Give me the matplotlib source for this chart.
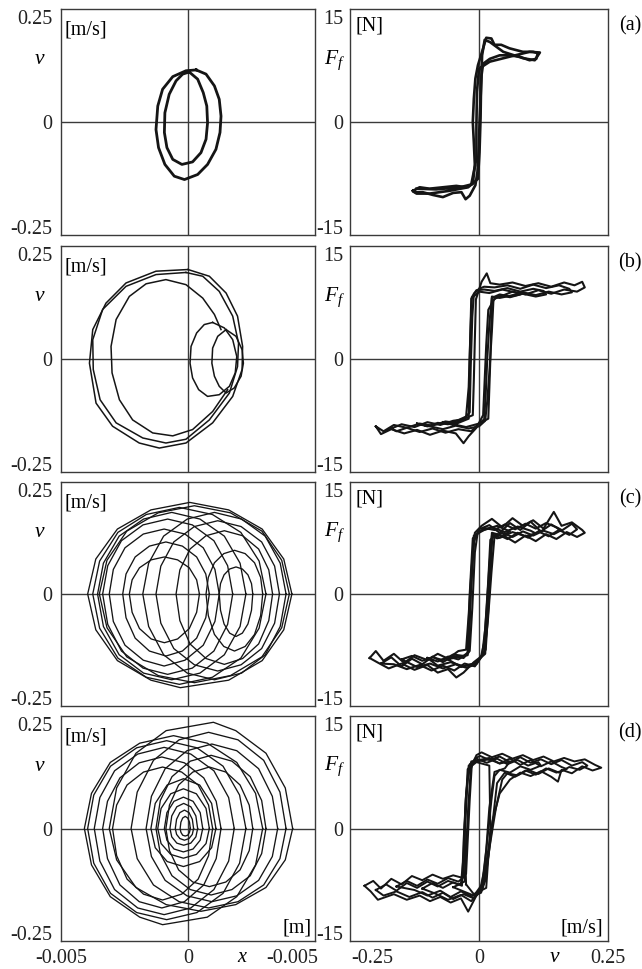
import matplotlib
matplotlib.use('Agg')
import matplotlib.pyplot as plt
import numpy as np

plt.rcParams['font.family'] = ['Liberation Serif', 'DejaVu Serif']
plt.rcParams['mathtext.fontset'] = 'custom'
plt.rcParams['mathtext.rm'] = 'Liberation Serif'
plt.rcParams['mathtext.it'] = 'Liberation Serif:italic'
plt.rcParams['axes.unicode_minus'] = False

MM = 1e-3  # x values below are stored in millimetres

# ---------------- panel (a) ----------------
a_phase_x_mm = [
    [0.32, 0.71, 1.04, 1.23, 1.30, 1.26, 1.10, 0.77, 0.38, -0.14, -0.54, -0.91, -1.16, -1.26, -1.19, -1.00, -0.60, -0.08, 0.32],
    [0.05, 0.38, 0.60, 0.74, 0.77, 0.71, 0.51, 0.18, -0.24, -0.60, -0.83, -0.93, -0.91, -0.74, -0.47, -0.21, 0.05],
]
a_phase_v = [
    [0.124, 0.114, 0.086, 0.054, 0.014, -0.025, -0.065, -0.101, -0.125, -0.137, -0.129, -0.101, -0.061, -0.018, 0.038, 0.078, 0.108, 0.122, 0.124],
    [0.119, 0.102, 0.070, 0.038, -0.002, -0.041, -0.073, -0.095, -0.101, -0.089, -0.061, -0.025, 0.022, 0.066, 0.098, 0.114, 0.119],
]
a_fric_v = [
    [-0.128, -0.115, -0.096, -0.070, -0.044, -0.025, -0.012, -0.008, -0.010, -0.012, -0.010, -0.007, -0.002, 0.008, 0.014, 0.024, 0.030, 0.043, 0.059, 0.085, 0.105, 0.114, 0.111, 0.098, 0.079, 0.059, 0.040, 0.021, 0.008, 0.005, 0.003, 0.001, 0.000, -0.003, -0.007, -0.018, -0.026, -0.034, -0.050, -0.070, -0.089, -0.109, -0.125, -0.128],
    [-0.121, -0.083, -0.037, -0.015, -0.005, -0.005, -0.004, 0.000, 0.021, 0.059, 0.098, 0.118, 0.108, 0.085, 0.047, 0.021, 0.011, 0.006, 0.004, 0.003, 0.001, -0.002, -0.021, -0.057, -0.096, -0.121, -0.127],
]
a_fric_F = [
    [-9.8, -9.3, -9.5, -9.3, -9.1, -9.3, -8.8, -6.2, -2.9, 0.0, 3.3, 6.2, 8.1, 10.5, 12.0, 11.9, 11.0, 11.0, 10.5, 10.0, 10.0, 9.8, 9.0, 8.8, 9.3, 9.5, 9.5, 9.0, 8.3, 6.7, 3.3, 0.0, -3.3, -7.1, -9.0, -10.5, -11.0, -10.0, -10.1, -10.7, -10.4, -10.0, -10.0, -9.8],
    [-9.5, -9.6, -9.3, -8.9, -5.2, -0.5, 4.3, 7.6, 8.6, 9.3, 10.0, 9.9, 8.8, 9.1, 10.0, 11.4, 11.7, 9.5, 5.2, 0.5, -4.3, -8.1, -9.3, -9.8, -10.2, -10.2, -9.9],
]

# ---------------- panel (b) ----------------
b_phase_x_mm = [
    [0, -1.26, -2.44, -3.23, -3.75, -3.88, -3.62, -2.97, -1.92, -1.13, -0.08, 0.97, 1.76, 2.13, 2.15, 1.95, 1.50, 0.84, 0],
    [-0.08, -1.26, -2.44, -3.36, -3.75, -3.73, -3.46, -2.83, -1.78, -0.87, -0.08, 0.84, 1.63, 1.95, 1.99, 1.76, 1.23, 0.58, -0.08],
    [1.56, 0.97, 0.18, -0.60, -1.39, -2.18, -2.70, -2.99, -3.03, -2.83, -2.31, -1.65, -0.87, -0.08, 0.58, 1.04, 1.30],
    [0.97, 1.43, 1.76, 1.92, 1.86, 1.63, 1.23, 0.77, 0.42, 0.18, 0.08, 0.12, 0.34, 0.64, 0.97],
    [1.50, 1.89, 2.13, 2.18, 2.09, 1.82, 1.50, 1.23, 1.04, 0.94, 0.97, 1.17, 1.50],
]
b_phase_v = [
    [0.213, 0.209, 0.181, 0.133, 0.070, -0.010, -0.105, -0.160, -0.200, -0.212, -0.200, -0.152, -0.089, -0.025, 0.030, 0.102, 0.157, 0.197, 0.213],
    [0.206, 0.201, 0.173, 0.118, 0.046, -0.025, -0.097, -0.152, -0.188, -0.200, -0.191, -0.145, -0.081, -0.018, 0.038, 0.102, 0.161, 0.197, 0.206],
    [-0.073, -0.125, -0.168, -0.183, -0.176, -0.145, -0.097, -0.033, 0.030, 0.094, 0.149, 0.179, 0.189, 0.177, 0.145, 0.106, 0.070],
    [0.087, 0.074, 0.046, 0.006, -0.033, -0.065, -0.085, -0.089, -0.073, -0.045, -0.010, 0.030, 0.062, 0.082, 0.087],
    [0.070, 0.054, 0.022, -0.010, -0.041, -0.069, -0.081, -0.065, -0.041, -0.010, 0.026, 0.054, 0.070],
]
b_fric_v = [
    [-0.200, -0.185, -0.165, -0.140, -0.115, -0.090, -0.065, -0.045, -0.025, -0.012, -0.010, -0.008, -0.006, 0.005, 0.015, 0.022, 0.040, 0.065, 0.090, 0.115, 0.140, 0.165, 0.185, 0.200, 0.205, 0.190, 0.165, 0.140, 0.115, 0.090, 0.065, 0.045, 0.030, 0.018, 0.014, 0.011, 0.008, -0.005, -0.020, -0.030, -0.045, -0.070, -0.095, -0.120, -0.145, -0.170, -0.190, -0.200],
    [-0.170, -0.150, -0.125, -0.100, -0.075, -0.050, -0.030, -0.018, -0.016, -0.013, -0.010, 0.000, 0.010, 0.030, 0.055, 0.080, 0.105, 0.130, 0.155, 0.175, 0.180, 0.160, 0.135, 0.110, 0.085, 0.060, 0.040, 0.025, 0.020, 0.016, 0.013, 0.010, -0.002, -0.015, -0.040, -0.065, -0.090, -0.115, -0.140, -0.160, -0.170],
    [-0.120, -0.100, -0.080, -0.060, -0.040, -0.025, -0.020, -0.017, -0.014, -0.005, 0.010, 0.030, 0.055, 0.080, 0.105, 0.125, 0.130, 0.110, 0.085, 0.060, 0.040, 0.028, 0.025, 0.020, 0.016, 0.012, 0.000, -0.020, -0.045, -0.070, -0.095, -0.120],
    [-0.070, -0.050, -0.030, -0.020, -0.018, -0.015, 0.000, 0.020, 0.045, 0.070, 0.080, 0.060, 0.040, 0.025, 0.022, 0.018, 0.000, -0.025, -0.050, -0.070],
]
b_fric_F = [
    [-9.6, -10.3, -9.4, -9.8, -9.2, -9.5, -8.9, -9.1, -8.4, -8.0, -3.0, 3.0, 8.5, 11.0, 12.2, 10.8, 10.6, 10.9, 10.4, 10.8, 10.3, 10.9, 10.5, 11.0, 10.2, 9.6, 9.9, 9.3, 9.8, 9.2, 9.6, 9.0, 8.6, 7.0, 2.0, -3.0, -8.0, -9.8, -11.0, -12.0, -10.6, -10.2, -10.8, -10.1, -10.6, -10.0, -10.7, -9.6],
    [-9.9, -9.3, -9.7, -9.0, -9.4, -8.8, -8.6, -7.6, -1.0, 6.0, 9.3, 10.0, 10.3, 10.2, 10.5, 10.0, 10.6, 10.1, 10.5, 10.0, 9.5, 9.2, 9.6, 9.1, 9.5, 9.0, 8.7, 8.9, 5.0, 0.0, -5.0, -8.6, -9.3, -10.3, -10.0, -10.5, -9.9, -10.4, -9.8, -10.3, -9.9],
    [-9.2, -9.6, -9.1, -9.3, -8.7, -8.2, -4.0, 3.0, 8.8, 9.8, 9.9, 9.7, 10.1, 9.6, 10.0, 9.7, 9.2, 8.9, 9.3, 8.8, 9.1, 8.4, 4.0, -2.0, -6.0, -8.8, -9.6, -9.9, -9.5, -10.0, -9.6, -9.2],
    [-9.0, -9.4, -8.8, -8.5, 0.0, 8.6, 9.6, 9.4, 9.9, 9.5, 9.2, 8.9, 9.2, 8.7, 0.0, -8.5, -9.2, -9.7, -9.3, -9.0],
]

# ---------------- panel (c) ----------------
c_phase_x_mm = [
    [4.09, 3.77, 2.92, 1.60, 0.07, -1.46, -2.78, -3.63, -3.95, -3.63, -2.78, -1.46, -0.30, 1.60, 2.92, 3.77, 4.09],
    [3.07, 2.80, 2.08, 0.96, -0.34, -1.64, -2.76, -3.48, -3.75, -3.48, -2.76, -1.64, -0.34, 0.96, 2.08, 2.80, 3.07],
    [2.28, 2.05, 1.43, 0.47, -0.64, -1.75, -2.71, -3.33, -3.56, -3.33, -2.71, -1.75, -0.64, 0.47, 1.43, 2.05, 2.28],
    [1.76, 1.56, 1.02, 0.17, -0.80, -1.77, -2.62, -3.16, -3.36, -3.16, -2.62, -1.77, -0.80, 0.17, 1.02, 1.56, 1.76],
    [1.23, 1.06, 0.60, -0.12, -0.94, -1.76, -2.48, -2.94, -3.10, -2.94, -2.48, -1.76, -0.94, -0.12, 0.60, 1.06, 1.23],
    [0.84, 0.70, 0.34, -0.22, -0.87, -1.52, -2.08, -2.44, -2.57, -2.44, -2.08, -1.52, -0.87, -0.22, 0.34, 0.70, 0.84],
    [0.45, 0.34, 0.05, -0.41, -0.93, -1.45, -1.91, -2.20, -2.31, -2.20, -1.91, -1.45, -0.93, -0.41, 0.05, 0.34, 0.45],
    [3.99, 3.69, 2.91, 1.67, 0.25, -1.17, -2.41, -3.19, -3.49, -3.19, -2.41, -1.17, 0.25, 1.67, 2.91, 3.69, 3.99],
    [3.86, 3.63, 3.04, 2.11, 1.04, -0.03, -0.96, -1.55, -1.78, -1.55, -0.96, -0.03, 1.04, 2.11, 3.04, 3.63, 3.86],
    [3.60, 3.41, 2.90, 2.09, 1.17, 0.25, -0.56, -1.07, -1.26, -1.07, -0.56, 0.25, 1.17, 2.09, 2.90, 3.41, 3.60],
    [3.33, 3.18, 2.78, 2.15, 1.43, 0.71, 0.08, -0.32, -0.47, -0.32, 0.08, 0.71, 1.43, 2.15, 2.78, 3.18, 3.33],
    [2.94, 2.86, 2.62, 2.25, 1.83, 1.41, 1.04, 0.80, 0.71, 0.80, 1.04, 1.41, 1.83, 2.25, 2.62, 2.86, 2.94],
    [2.55, 2.50, 2.36, 2.14, 1.89, 1.64, 1.42, 1.28, 1.23, 1.28, 1.42, 1.64, 1.89, 2.14, 2.36, 2.50, 2.55],
]
c_phase_v = [
    [0, 0.084, 0.156, 0.202, 0.220, 0.202, 0.156, 0.084, 0, -0.086, -0.160, -0.207, -0.225, -0.207, -0.160, -0.086, 0],
    [0, 0.079, 0.148, 0.191, 0.208, 0.191, 0.148, 0.079, 0, -0.082, -0.154, -0.200, -0.217, -0.200, -0.154, -0.082, 0],
    [0, 0.074, 0.139, 0.180, 0.196, 0.180, 0.139, 0.074, 0, -0.078, -0.146, -0.190, -0.206, -0.190, -0.146, -0.078, 0],
    [0, 0.068, 0.128, 0.166, 0.180, 0.166, 0.128, 0.068, 0, -0.073, -0.137, -0.178, -0.193, -0.178, -0.137, -0.073, 0],
    [0, 0.059, 0.111, 0.144, 0.156, 0.144, 0.111, 0.059, 0, -0.066, -0.123, -0.159, -0.173, -0.159, -0.123, -0.066, 0],
    [0, 0.048, 0.089, 0.115, 0.125, 0.115, 0.089, 0.048, 0, -0.057, -0.106, -0.137, -0.149, -0.137, -0.106, -0.057, 0],
    [0, 0.034, 0.063, 0.082, 0.089, 0.082, 0.063, 0.034, 0, -0.044, -0.083, -0.108, -0.117, -0.108, -0.083, -0.044, 0],
    [0, 0.081, 0.151, 0.195, 0.212, 0.195, 0.151, 0.081, 0, -0.081, -0.151, -0.196, -0.213, -0.196, -0.151, -0.081, 0],
    [0, 0.074, 0.139, 0.180, 0.196, 0.180, 0.139, 0.074, 0, -0.078, -0.146, -0.190, -0.206, -0.190, -0.146, -0.078, 0],
    [0, 0.067, 0.125, 0.162, 0.176, 0.162, 0.125, 0.067, 0, -0.070, -0.131, -0.170, -0.185, -0.170, -0.131, -0.070, 0],
    [0, 0.058, 0.108, 0.140, 0.152, 0.140, 0.108, 0.058, 0, -0.064, -0.120, -0.155, -0.169, -0.155, -0.120, -0.064, 0],
    [0, 0.040, 0.075, 0.097, 0.105, 0.097, 0.075, 0.040, 0, -0.052, -0.097, -0.126, -0.137, -0.126, -0.097, -0.052, 0],
    [0, 0.025, 0.046, 0.060, 0.065, 0.060, 0.046, 0.025, 0, -0.039, -0.072, -0.094, -0.102, -0.094, -0.072, -0.039, 0],
]
c_fric_v = [
    [-0.212, -0.200, -0.185, -0.165, -0.145, -0.125, -0.100, -0.080, -0.060, -0.040, -0.025, -0.020, -0.014, -0.008, 0.005, 0.025, 0.045, 0.065, 0.085, 0.105, 0.125, 0.145, 0.160, 0.180, 0.200, 0.205, 0.190, 0.170, 0.150, 0.130, 0.110, 0.090, 0.070, 0.050, 0.035, 0.025, 0.020, 0.015, 0.010, 0.004, -0.010, -0.030, -0.044, -0.060, -0.080, -0.100, -0.125, -0.150, -0.175, -0.195, -0.212],
    [-0.190, -0.170, -0.150, -0.130, -0.110, -0.090, -0.070, -0.050, -0.030, -0.020, -0.016, -0.010, 0.000, 0.020, 0.040, 0.060, 0.080, 0.100, 0.120, 0.140, 0.160, 0.180, 0.190, 0.175, 0.155, 0.135, 0.115, 0.095, 0.075, 0.055, 0.035, 0.022, 0.018, 0.012, 0.006, -0.008, -0.028, -0.048, -0.070, -0.092, -0.115, -0.140, -0.165, -0.190],
    [-0.150, -0.130, -0.110, -0.090, -0.070, -0.050, -0.030, -0.018, -0.013, -0.008, -0.003, 0.010, 0.030, 0.050, 0.070, 0.090, 0.110, 0.130, 0.150, 0.160, 0.145, 0.125, 0.105, 0.085, 0.065, 0.045, 0.030, 0.024, 0.017, 0.010, -0.005, -0.025, -0.045, -0.070, -0.095, -0.120, -0.150],
    [-0.100, -0.080, -0.060, -0.040, -0.022, -0.018, -0.012, 0.000, 0.025, 0.050, 0.075, 0.100, 0.110, 0.090, 0.065, 0.040, 0.026, 0.020, 0.013, -0.005, -0.030, -0.055, -0.080, -0.100],
    [-0.060, -0.040, -0.022, -0.016, -0.010, 0.010, 0.035, 0.060, 0.045, 0.025, 0.018, 0.012, -0.010, -0.035, -0.060],
]
c_fric_F = [
    [-9.2, -8.2, -9.6, -8.6, -9.9, -8.8, -9.5, -8.6, -9.3, -8.2, -8.0, -3.0, 4.0, 8.8, 9.8, 10.8, 9.6, 10.9, 9.8, 10.6, 9.4, 11.8, 9.8, 10.3, 9.2, 8.8, 8.2, 8.9, 7.9, 8.6, 7.6, 8.4, 7.4, 8.3, 8.0, 8.4, 4.0, -2.0, -7.0, -9.0, -9.8, -11.3, -12.0, -10.8, -11.3, -10.2, -10.9, -10.0, -10.7, -9.9, -9.2],
    [-10.0, -9.1, -10.4, -9.3, -10.1, -9.0, -9.8, -8.9, -9.2, -8.4, 0.0, 7.5, 9.3, 9.9, 8.8, 10.2, 9.2, 10.4, 9.0, 10.0, 9.1, 10.1, 9.3, 8.5, 9.2, 8.3, 9.0, 8.1, 8.8, 7.9, 8.6, 7.8, 2.0, -5.0, -8.8, -10.4, -10.0, -11.0, -10.3, -11.0, -10.2, -10.8, -10.1, -10.0],
    [-9.4, -8.9, -9.6, -9.1, -9.5, -8.7, -8.9, -8.2, -2.0, 6.0, 8.6, 9.5, 9.2, 10.0, 9.3, 10.1, 9.4, 10.2, 9.6, 9.2, 8.6, 9.1, 8.4, 9.0, 8.2, 8.8, 8.3, 3.0, -4.0, -8.5, -10.1, -10.6, -10.1, -10.7, -10.0, -10.5, -9.4],
    [-9.2, -9.7, -9.0, -9.4, -8.6, 0.0, 8.0, 9.0, 9.6, 8.9, 9.7, 9.1, 8.7, 8.3, 8.9, 8.1, 8.6, 0.0, -8.0, -9.9, -10.4, -9.8, -10.3, -9.2],
    [-9.4, -9.0, -8.8, 0.0, 8.4, 9.2, 9.8, 9.0, 8.4, 8.8, 0.0, -8.6, -10.0, -10.5, -9.4],
]

# ---------------- panel (d) ----------------
d_phase_x_mm = [
    [2.94, 2.66, 1.92, 0.76, -0.57, -1.90, -3.06, -3.80, -4.08, -3.80, -3.06, -1.90, -1.00, 0.76, 1.92, 2.66, 2.94],
    [2.28, 2.03, 1.38, 0.35, -0.84, -2.02, -3.05, -3.71, -3.95, -3.71, -3.05, -2.02, -0.84, 0.35, 1.38, 2.03, 2.28],
    [1.82, 1.60, 1.02, 0.11, -0.94, -1.98, -2.89, -3.47, -3.69, -3.47, -2.89, -1.98, -0.94, 0.11, 1.02, 1.60, 1.82],
    [1.30, 1.11, 0.62, -0.14, -1.03, -1.92, -2.68, -3.17, -3.36, -3.17, -2.68, -1.92, -1.03, -0.14, 0.62, 1.11, 1.30],
    [0.97, 0.81, 0.40, -0.25, -1.00, -1.75, -2.40, -2.81, -2.97, -2.81, -2.40, -1.75, -1.00, -0.25, 0.40, 0.81, 0.97],
    [4.12, 3.83, 3.07, 1.88, 1.00, -0.86, -2.05, -2.81, -3.10, -2.81, -2.05, -0.86, 0.51, 1.88, 3.07, 3.83, 4.12],
    [3.86, 3.62, 2.98, 1.97, 0.81, -0.35, -1.36, -2.00, -2.24, -2.00, -1.36, -0.35, 0.81, 1.97, 2.98, 3.62, 3.86],
    [3.53, 3.32, 2.78, 1.92, 0.94, -0.04, -0.90, -1.44, -1.65, -1.44, -0.90, -0.04, 0.94, 1.92, 2.78, 3.32, 3.53],
    [3.07, 2.90, 2.45, 1.73, 0.91, 0.09, -0.63, -1.09, -1.26, -1.09, -0.63, 0.09, 0.91, 1.73, 2.45, 2.90, 3.07],
    [2.55, 2.41, 2.05, 1.49, 0.84, 0.19, -0.37, -0.73, -0.87, -0.73, -0.37, 0.19, 0.84, 1.49, 2.05, 2.41, 2.55],
    [1.10, 0.93, 0.46, -0.18, -0.82, -1.29, -1.46, -1.29, -0.82, -0.18, 0.46, 0.93, 1.10],
    [0.84, 0.71, 0.33, -0.18, -0.68, -1.06, -1.19, -1.06, -0.68, -0.18, 0.33, 0.71, 0.84],
    [0.58, 0.48, 0.20, -0.18, -0.55, -0.83, -0.93, -0.83, -0.55, -0.18, 0.20, 0.48, 0.58],
    [0.38, 0.31, 0.11, -0.17, -0.44, -0.64, -0.71, -0.64, -0.44, -0.17, 0.11, 0.31, 0.38],
    [0.22, 0.17, 0.04, -0.14, -0.32, -0.45, -0.50, -0.45, -0.32, -0.14, 0.04, 0.17, 0.22],
    [0.09, 0.06, -0.01, -0.11, -0.21, -0.28, -0.31, -0.28, -0.21, -0.11, -0.01, 0.06, 0.09],
]
d_phase_v = [
    [0, 0.084, 0.158, 0.204, 0.222, 0.204, 0.158, 0.084, 0, -0.087, -0.163, -0.212, -0.230, -0.212, -0.163, -0.087, 0],
    [0, 0.080, 0.149, 0.193, 0.210, 0.193, 0.149, 0.080, 0, -0.083, -0.155, -0.201, -0.218, -0.201, -0.155, -0.083, 0],
    [0, 0.074, 0.138, 0.178, 0.194, 0.178, 0.138, 0.074, 0, -0.078, -0.146, -0.190, -0.206, -0.190, -0.146, -0.078, 0],
    [0, 0.065, 0.121, 0.157, 0.171, 0.157, 0.121, 0.065, 0, -0.072, -0.135, -0.175, -0.190, -0.175, -0.135, -0.072, 0],
    [0, 0.056, 0.104, 0.135, 0.147, 0.135, 0.104, 0.056, 0, -0.065, -0.121, -0.157, -0.171, -0.157, -0.121, -0.065, 0],
    [0, 0.097, 0.180, 0.234, 0.254, 0.234, 0.180, 0.097, 0, -0.075, -0.141, -0.182, -0.198, -0.182, -0.141, -0.075, 0],
    [0, 0.087, 0.163, 0.212, 0.230, 0.212, 0.163, 0.087, 0, -0.072, -0.135, -0.175, -0.190, -0.175, -0.135, -0.072, 0],
    [0, 0.077, 0.143, 0.186, 0.202, 0.186, 0.143, 0.077, 0, -0.067, -0.124, -0.161, -0.175, -0.161, -0.124, -0.067, 0],
    [0, 0.067, 0.124, 0.161, 0.175, 0.161, 0.124, 0.067, 0, -0.060, -0.113, -0.146, -0.159, -0.146, -0.113, -0.060, 0],
    [0, 0.056, 0.104, 0.135, 0.147, 0.135, 0.104, 0.056, 0, -0.053, -0.099, -0.128, -0.139, -0.128, -0.099, -0.053, 0],
    [0, 0.060, 0.104, 0.119, 0.104, 0.060, 0, -0.046, -0.079, -0.091, -0.079, -0.046, 0],
    [0, 0.048, 0.083, 0.095, 0.083, 0.048, 0, -0.036, -0.062, -0.071, -0.062, -0.036, 0],
    [0, 0.038, 0.065, 0.075, 0.065, 0.038, 0, -0.028, -0.049, -0.056, -0.049, -0.028, 0],
    [0, 0.030, 0.052, 0.060, 0.052, 0.030, 0, -0.020, -0.035, -0.040, -0.035, -0.020, 0],
    [0, 0.022, 0.038, 0.044, 0.038, 0.022, 0, -0.014, -0.024, -0.028, -0.024, -0.014, 0],
    [0, 0.015, 0.025, 0.029, 0.025, 0.015, 0, -0.009, -0.016, -0.018, -0.016, -0.009, 0],
]
d_fric_v = [
    [-0.222, -0.205, -0.190, -0.170, -0.150, -0.130, -0.110, -0.090, -0.070, -0.050, -0.035, -0.025, -0.022, -0.018, -0.014, -0.005, 0.005, 0.025, 0.045, 0.065, 0.085, 0.105, 0.125, 0.145, 0.165, 0.185, 0.205, 0.225, 0.237, 0.220, 0.200, 0.180, 0.160, 0.153, 0.140, 0.120, 0.100, 0.080, 0.060, 0.040, 0.026, 0.016, 0.008, -0.005, -0.021, -0.035, -0.055, -0.075, -0.095, -0.115, -0.140, -0.165, -0.196, -0.210, -0.222],
    [-0.200, -0.180, -0.160, -0.140, -0.120, -0.100, -0.080, -0.060, -0.040, -0.028, -0.025, -0.021, -0.016, -0.008, 0.002, 0.020, 0.040, 0.060, 0.080, 0.100, 0.120, 0.140, 0.160, 0.180, 0.200, 0.210, 0.195, 0.175, 0.155, 0.135, 0.115, 0.095, 0.075, 0.055, 0.045, 0.033, 0.022, 0.014, 0.006, -0.010, -0.030, -0.050, -0.070, -0.090, -0.110, -0.135, -0.160, -0.185, -0.200],
    [-0.160, -0.140, -0.120, -0.100, -0.080, -0.060, -0.040, -0.030, -0.027, -0.022, -0.015, 0.000, 0.020, 0.040, 0.060, 0.080, 0.100, 0.120, 0.140, 0.160, 0.170, 0.150, 0.130, 0.110, 0.090, 0.070, 0.050, 0.035, 0.028, 0.020, 0.012, 0.004, -0.015, -0.035, -0.055, -0.075, -0.100, -0.125, -0.160],
    [-0.110, -0.090, -0.070, -0.050, -0.033, -0.030, -0.025, -0.018, -0.005, 0.015, 0.035, 0.055, 0.075, 0.095, 0.115, 0.120, 0.100, 0.080, 0.060, 0.040, 0.030, 0.024, 0.017, 0.010, 0.002, -0.015, -0.035, -0.060, -0.085, -0.110],
    [-0.050, -0.035, -0.030, -0.026, -0.020, -0.005, 0.020, 0.040, 0.060, 0.050, 0.030, 0.020, 0.014, 0.006, -0.010, -0.030, -0.050],
    [-0.025, -0.028, -0.022, -0.005, 0.020, 0.022, 0.014, -0.010, -0.025],
]
d_fric_F = [
    [-8.2, -7.5, -8.6, -7.2, -8.0, -6.8, -7.4, -6.6, -7.2, -6.7, -7.0, -6.5, -2.0, 4.0, 9.0, 10.5, 10.9, 10.2, 10.7, 10.0, 10.5, 9.8, 10.3, 9.6, 10.1, 9.6, 9.9, 9.1, 8.7, 8.3, 8.9, 7.9, 8.4, 6.7, 7.4, 8.2, 7.5, 8.0, 7.0, 5.0, 1.0, -4.0, -8.0, -9.6, -11.9, -10.0, -10.6, -9.8, -10.4, -9.6, -10.2, -9.4, -10.2, -9.0, -8.2],
    [-8.8, -8.0, -8.9, -7.8, -8.5, -7.6, -8.3, -7.5, -8.0, -7.6, -3.0, 3.0, 8.5, 10.0, 10.4, 9.8, 10.3, 9.5, 10.2, 9.4, 9.9, 9.2, 9.8, 9.0, 9.5, 9.0, 8.4, 8.8, 8.0, 8.6, 7.8, 8.4, 7.6, 7.9, 7.0, 3.0, -2.0, -6.0, -8.8, -10.0, -9.4, -10.1, -9.2, -9.9, -9.1, -9.8, -9.0, -9.6, -8.8],
    [-8.3, -7.5, -8.2, -7.3, -7.9, -7.1, -7.6, -7.0, 0.0, 7.0, 9.6, 9.8, 10.1, 9.3, 10.0, 9.1, 9.8, 8.9, 9.6, 8.8, 8.5, 8.0, 8.6, 7.7, 8.3, 7.4, 8.0, 6.5, 2.0, -3.0, -7.5, -9.2, -9.7, -9.0, -9.8, -8.9, -9.6, -8.8, -8.3],
    [-8.6, -7.8, -8.5, -7.7, -8.2, -2.0, 5.0, 9.2, 10.0, 9.4, 10.0, 9.2, 9.8, 9.0, 9.5, 9.0, 8.4, 8.9, 8.0, 8.4, 7.5, 4.0, -1.0, -6.0, -8.8, -10.4, -9.5, -10.2, -9.3, -8.6],
    [-8.4, -7.9, -4.0, 4.0, 9.0, 9.6, 9.9, 9.3, 9.6, 8.6, 8.1, 3.0, -3.0, -8.0, -9.6, -9.0, -8.4],
    [-8.0, 0.0, 8.5, 9.5, 9.0, 0.0, -8.5, -9.4, -8.0],
]

# tick labels
phase_yticks = [-0.25, 0, 0.25]
phase_yticklabels = ['-0.25', '0', '0.25']
fric_yticks = [-15, 0, 15]
fric_yticklabels = ['-15', '0', '15']
phase_xticks = [-0.005, 0, 0.0041]
phase_xticklabels = ['-0.005', '0', '-0.005']
fric_xticks = [-0.207, 0, 0.25]
fric_xticklabels = ['-0.25', '0', '0.25']
panel_letters = ['(a)', '(b)', '(c)', '(d)']

phase_x = [a_phase_x_mm, b_phase_x_mm, c_phase_x_mm, d_phase_x_mm]
phase_v = [a_phase_v, b_phase_v, c_phase_v, d_phase_v]
fric_v = [a_fric_v, b_fric_v, c_fric_v, d_fric_v]
fric_F = [a_fric_F, b_fric_F, c_fric_F, d_fric_F]
phase_lw = [2.0, 1.1, 0.95, 0.95]
fric_lw = [1.9, 1.5, 1.5, 1.4]

# ---------------- layout ----------------
W, H = 642, 969
rows = [(9, 235), (246, 472), (482, 706), (716, 941)]
LX = (61, 315)
RX = (350, 608)
FS = 14.5
LINE = '#3a3a3a'
INK = '#151515'

fig = plt.figure(figsize=(W / 100, H / 100), dpi=100)
fig.patch.set_facecolor('white')


def make_ax(xr, row):
    t, b = row
    ax = fig.add_axes([xr[0] / W, 1 - b / H, (xr[1] - xr[0]) / W, (b - t) / H])
    for s in ax.spines.values():
        s.set_linewidth(1.0)
        s.set_color(LINE)
    ax.axhline(0, color=LINE, lw=1.0, zorder=1)
    ax.axvline(0, color=LINE, lw=1.0, zorder=1)
    ax.tick_params(length=0, labelsize=FS, colors='#222222')
    return ax


for i, row in enumerate(rows):
    # phase portrait
    ax = make_ax(LX, row)
    for xs, vs in zip(phase_x[i], phase_v[i]):
        n = min(len(xs), len(vs))
        ax.plot(np.array(xs[:n]) * MM, vs[:n], color=INK, lw=phase_lw[i], zorder=3,
                solid_joinstyle='round')
    ax.set_xlim(-0.005, 0.005)
    ax.set_ylim(-0.269, 0.269)
    ax.set_yticks(phase_yticks)
    ax.set_yticklabels(phase_yticklabels)
    ax.tick_params(axis='y', pad=6)
    if i == 3:
        ax.set_xticks(phase_xticks)
        ax.set_xticklabels(phase_xticklabels)
        ax.tick_params(axis='x', pad=6)
        ax.text(0.0021, -0.075, 'x', transform=ax.get_xaxis_transform(), ha='center',
                va='center', fontsize=FS, style='italic')
        ax.text(0.988, 0.058, '[m]', transform=ax.transAxes, ha='right', va='center',
                fontsize=FS)
    else:
        ax.set_xticks([])
    ax.text(-0.083, 0.775, 'v', transform=ax.transAxes, ha='center', va='center',
            fontsize=FS + 1, style='italic')
    ax.text(0.012, 0.905, '[m/s]', transform=ax.transAxes, ha='left', va='center',
            fontsize=FS)

    # friction force vs velocity
    ax2 = make_ax(RX, row)
    for vs, Fs in zip(fric_v[i], fric_F[i]):
        n = min(len(vs), len(Fs))
        ax2.plot(vs[:n], Fs[:n], color=INK, lw=fric_lw[i], zorder=3, solid_joinstyle='round')
    ax2.set_xlim(-0.25, 0.25)
    ax2.set_ylim(-16.1, 16.1)
    ax2.set_yticks(fric_yticks)
    ax2.set_yticklabels(fric_yticklabels)
    ax2.tick_params(axis='y', pad=5)
    if i == 3:
        ax2.set_xticks(fric_xticks)
        ax2.set_xticklabels(fric_xticklabels)
        ax2.tick_params(axis='x', pad=6)
        ax2.text(0.147, -0.075, 'v', transform=ax2.get_xaxis_transform(), ha='center',
                 va='center', fontsize=FS + 1, style='italic')
        ax2.text(0.98, 0.058, '[m/s]', transform=ax2.transAxes, ha='right', va='center',
                 fontsize=FS)
    else:
        ax2.set_xticks([])
    ax2.text(-0.058, 0.775, r'$F_f$', transform=ax2.transAxes, ha='center', va='center',
             fontsize=FS + 1)
    if i != 1:
        ax2.text(0.02, 0.925, '[N]', transform=ax2.transAxes, ha='left', va='center',
                 fontsize=FS)
    fig.text(630 / W, 1 - (row[0] + 17) / H, panel_letters[i], ha='center', va='center',
             fontsize=FS)

fig.savefig('out.png', dpi=100, facecolor='white')
